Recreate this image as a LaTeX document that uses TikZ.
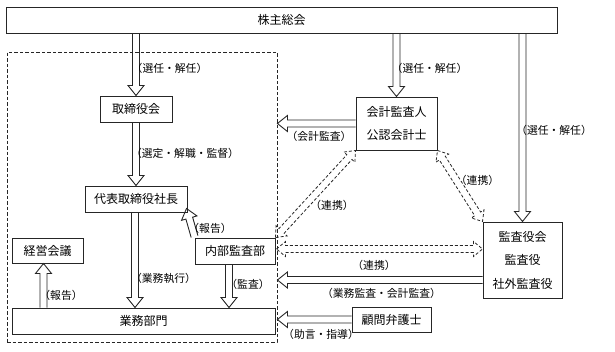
\documentclass[tikz,border=0pt]{standalone}
\usepackage{fontspec}
\newfontfamily\jpfont{Noto Sans CJK JP}
\usepackage{tikz}
\usetikzlibrary{positioning, calc}

\begin{document}
\begin{tikzpicture}[
  x=1pt, y=-1pt,
  node distance=63pt and 8pt,
  box/.style={
    rectangle,
    draw=black!85,
    line width=1pt,
    fill=white,
    inner sep=0pt,
    align=center,
    font=\jpfont\fontsize{12}{23.5}\selectfont
  },
  lbl/.style={inner sep=0pt, font=\jpfont\fontsize{10.8}{12}\selectfont},
  frame/.style={draw=black!85, line width=0.9pt, dash pattern=on 3.5pt off 2pt},
  fat/.style={draw=black!85, line width=0.9pt, line join=miter, to path={
    ($(\tikztostart)!3.5pt!90:(\tikztotarget)$)
    -- ($($(\tikztotarget)!10pt!(\tikztostart)$)!3.5pt!-90:(\tikztostart)$)
    -- ($($(\tikztotarget)!10pt!(\tikztostart)$)!8pt!-90:(\tikztostart)$)
    -- (\tikztotarget)
    -- ($($(\tikztotarget)!10pt!(\tikztostart)$)!8pt!90:(\tikztostart)$)
    -- ($($(\tikztotarget)!10pt!(\tikztostart)$)!3.5pt!90:(\tikztostart)$)
    -- ($(\tikztostart)!3.5pt!-90:(\tikztotarget)$)}},
  fatboth/.style={draw=black!85, line width=0.8pt, dash pattern=on 3pt off 2pt, to path={
    -- ($($(\tikztostart)!9pt!(\tikztotarget)$)!7.5pt!90:(\tikztotarget)$)
    -- ($($(\tikztostart)!9pt!(\tikztotarget)$)!3.5pt!90:(\tikztotarget)$)
    -- ($($(\tikztotarget)!9pt!(\tikztostart)$)!3.5pt!-90:(\tikztostart)$)
    -- ($($(\tikztotarget)!9pt!(\tikztostart)$)!7.5pt!-90:(\tikztostart)$)
    -- (\tikztotarget)
    -- ($($(\tikztotarget)!9pt!(\tikztostart)$)!7.5pt!90:(\tikztostart)$)
    -- ($($(\tikztotarget)!9pt!(\tikztostart)$)!3.5pt!90:(\tikztostart)$)
    -- ($($(\tikztostart)!9pt!(\tikztotarget)$)!3.5pt!-90:(\tikztotarget)$)
    -- ($($(\tikztostart)!9pt!(\tikztotarget)$)!7.5pt!-90:(\tikztotarget)$)
    -- cycle}}
]
  \useasboundingbox (0,0) rectangle (615,351);

  % Nodes
  \node (frame) [frame, minimum width=270pt, minimum height=290pt] at (142,197) {};
  \node (soukai) [box, minimum width=551pt, minimum height=26pt] at (281.5,20) {株主総会};
  \node (torishimari) [box, minimum width=72pt, minimum height=26pt] at (136,109) {取締役会};
  \node (daihyo) [box, minimum width=102pt, minimum height=26pt, below=of torishimari] {代表取締役社長};
  \node (keiei) [box, minimum width=71pt, minimum height=25pt] at (47.5,250.5) {経営会議};
  \node (naibu) [box, minimum width=80pt, minimum height=26pt] at (235,251) {内部監査部};
  \node (gyomu) [box, minimum width=263pt, minimum height=26pt] at (143.5,321) {業務部門};
  \node (kaikei) [box, minimum width=81pt, minimum height=53pt] at (396.5,123.5) {会計監査人\\公認会計士};
  \node (kansa) [box, minimum width=79pt, minimum height=76pt] at (522.5,260) {監査役会\\監査役\\社外監査役};
  \node (komon) [box, minimum width=79pt, minimum height=25pt] at (391.5,319.5) {顧問弁護士};

  \coordinate (kansaOut) at ($(kansa.west)+(0,20)$);

  % Arrows
  \draw [fat] (soukai.south -| torishimari.north) to (torishimari.north);
  \draw [fat] (soukai.south -| kaikei.north) to (kaikei.north);
  \draw [fat] (soukai.south -| kansa.north) to (kansa.north);
  \draw [fat] (torishimari.south) to (torishimari.south |- daihyo.north);
  \draw [fat] ($(daihyo.south)+(-1,0)$) to ($(daihyo.south |- gyomu.north)+(-1,0)$);
  \draw [fat] ($(gyomu.north -| keiei.south)+(-4,0)$) to ($(keiei.south)+(-4,0)$);
  \draw [fat] ($(naibu.south)+(-6,0)$) to ($(naibu.south |- gyomu.north)+(-6,0)$);
  \draw [fat] ($(naibu.north west)+(0,-1)$) to ($(daihyo.south east)+(-1,-4)$);
  \draw [fat] (kaikei.west) to (kaikei.west -| frame.east);
  \draw [fat] (kansaOut) to (kansaOut -| frame.east);
  \draw [fat] (komon.west) to (komon.west -| frame.east);
  \draw [fatboth] (naibu.north east) to (kaikei.south west);
  \draw [fatboth] (kaikei.south east) to (kansa.north west);
  \draw [fatboth] ($(naibu.east)+(1,-2)$) to ($(naibu.east -| kansa.west)+(0,-2)$);

  % Labels
  \node (lSennin1) [lbl] at (169.5,68) {（選任・解任）};
  \node (lSennin2) [lbl] at (429.5,68) {（選任・解任）};
  \node (lSennin3) [lbl] at (554,130) {（選任・解任）};
  \node (lSentei) [lbl] at (185,153) {（選定・解職・監督）};
  \node (lHoukoku1) [lbl] at (210,228) {（報告）};
  \node (lShikkou) [lbl] at (163.5,278) {（業務執行）};
  \node (lHoukoku2) [lbl] at (61,295) {（報告）};
  \node (lKansa) [lbl] at (248,284) {（監査）};
  \node (lKaikei) [lbl] at (319,136) {（会計監査）};
  \node (lRenkei1) [lbl] at (332,205) {（連携）};
  \node (lRenkei2) [lbl] at (477.5,180) {（連携）};
  \node (lRenkei3) [lbl] at (374,265) {（連携）};
  \node (lGyomuKansa) [lbl] at (381.5,293) {（業務監査・会計監査）};
  \node (lJogen) [lbl] at (321,334) {（助言・指導）};

\end{tikzpicture}
\end{document}
